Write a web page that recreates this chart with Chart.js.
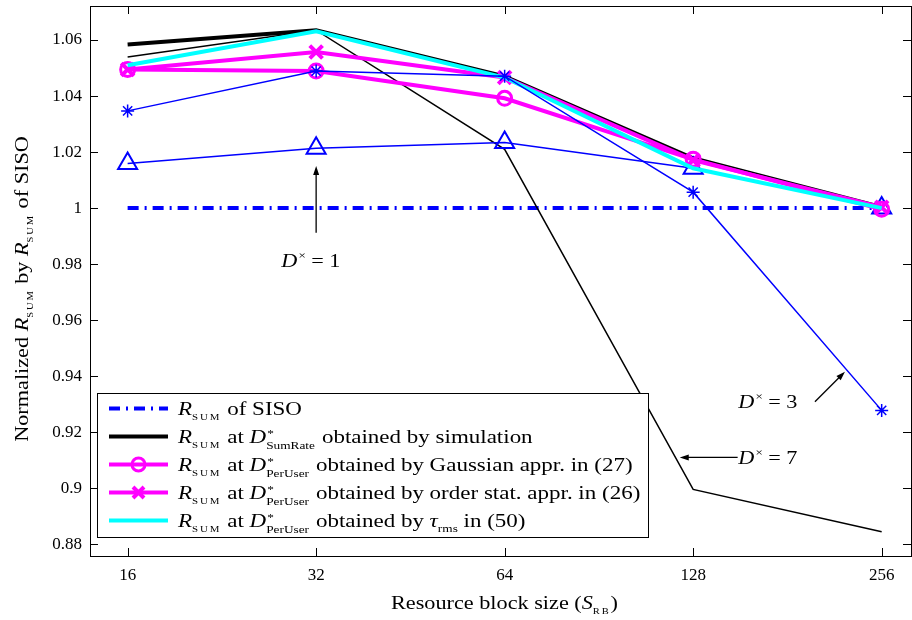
<!DOCTYPE html>
<html>
<head>
<meta charset="utf-8">
<script src="https://cdn.jsdelivr.net/npm/chart.js@4.4.1/dist/chart.umd.min.js"></script>
<style>
html, body { margin: 0; padding: 0; background: #fff; }
</style>
</head>
<body>
<canvas id="chart" width="912" height="620"></canvas>
<script>
// x axis: resource block size
const blockSizes = [16, 32, 64, 128, 256];
const xTickLabels = ['16', '32', '64', '128', '256'];
const yTicks = [0.88, 0.90, 0.92, 0.94, 0.96, 0.98, 1.00, 1.02, 1.04, 1.06];
const yTickLabels = ['0.88', '0.9', '0.92', '0.94', '0.96', '0.98', '1', '1.02', '1.04', '1.06'];

// normalized R_SUM
const sisoValues = [1.0, 1.0, 1.0, 1.0, 1.0];
const sumRateSim = [1.0584, 1.0635, 1.0470, 1.0178, 1.0003];
const gaussianAppr = [1.0495, 1.0489, 1.0392, 1.0174, 0.9996];
const orderStatAppr = [1.0495, 1.0557, 1.0466, 1.0171, 1.0003];
const tauRmsValues = [1.0510, 1.0631, 1.0466, 1.0142, 1.0000];
// fixed D^x curves
const fixedD1 = [1.0159, 1.0214, 1.0234, 1.0142, 1.0000];
const fixedD3 = [1.0347, 1.0489, 1.0471, 1.0057, 0.9278];
const fixedD7 = [1.0539, 1.0635, 1.0210, 0.8996, 0.8845];

const serif = '"Liberation Serif", "Times New Roman", serif';

function pts(vals) {
    return blockSizes.map((s, i) => ({x: Math.log2(s), y: vals[i]}));
}

// rich text pieces
const R_SUM = [{t: 'R', k: 'i'}, {t: 'SUM', k: 'sc'}];
const D_PU = [{t: 'D', k: 'i'}, {t: '*', k: 'ss', sub: 'PerUser'}];

const legendItems = [
    {color: '#0000ff', width: 4, dash: [11, 6, 2, 6], marker: null,
        text: [...R_SUM, {t: ' of SISO'}]},
    {color: '#000000', width: 4, dash: [], marker: null,
        text: [...R_SUM, {t: ' at '}, {t: 'D', k: 'i'}, {t: '*', k: 'ss', sub: 'SumRate'}, {t: ' obtained by simulation'}]},
    {color: '#ff00ff', width: 4, dash: [], marker: 'circle',
        text: [...R_SUM, {t: ' at '}, ...D_PU, {t: ' obtained by Gaussian appr. in (27)'}]},
    {color: '#ff00ff', width: 4, dash: [], marker: 'x',
        text: [...R_SUM, {t: ' at '}, ...D_PU, {t: ' obtained by order stat. appr. in (26)'}]},
    {color: '#00ffff', width: 4, dash: [], marker: null,
        text: [...R_SUM, {t: ' at '}, ...D_PU, {t: ' obtained by '}, {t: 'τ', k: 'i'}, {t: 'rms', k: 'sub'}, {t: ' in (50)'}]}
];

// arrows and labels, in data units (x = log2 of block size)
const notes = [
    {text: [{t: 'D', k: 'i'}, {t: '×', k: 'sup'}, {t: ' = 1'}], tx: 4.972, ty: 0.9789, align: 'center',
        from: [5, 0.9912], to: [5, 1.0150]},
    {text: [{t: 'D', k: 'i'}, {t: '×', k: 'sup'}, {t: ' = 3'}], tx: 7.239, ty: 0.9285, align: 'left',
        from: [7.646, 0.9309], to: [7.805, 0.9416]},
    {text: [{t: 'D', k: 'i'}, {t: '×', k: 'sup'}, {t: ' = 7'}], tx: 7.239, ty: 0.9087, align: 'left',
        from: [7.236, 0.9110], to: [6.929, 0.9110]}
];

const xTitle = [{t: 'Resource block size ('}, {t: 'S', k: 'i'}, {t: 'RB', k: 'sc'}, {t: ')'}];
const yTitle = [{t: 'Normalized '}, ...R_SUM, {t: ' by '}, ...R_SUM, {t: ' of SISO'}];

function pieceFont(k) {
    if (k === 'i') return 'italic 19px ' + serif;
    if (k === 'sc') return '9px ' + serif;
    if (k === 'sub' || k === 'sup' || k === 'ss') return '11px ' + serif;
    return '19px ' + serif;
}

function pieceWidth(ctx, p) {
    ctx.font = pieceFont(p.k);
    if (p.k === 'sc') return ctx.measureText(p.t).width + p.t.length * 1.6;
    if (p.k === 'ss') {
        const a = ctx.measureText(p.t).width;
        const b = ctx.measureText(p.sub).width;
        return Math.max(a, b) + 1;
    }
    if (p.k === 'sup') return ctx.measureText(p.t).width + 1;
    return ctx.measureText(p.t).width;
}

function richWidth(ctx, parts) {
    return parts.reduce((w, p) => w + pieceWidth(ctx, p), 0);
}

function drawRich(ctx, parts, x, y, align, stretch) {
    stretch = stretch || 1.17;
    const w = richWidth(ctx, parts) * stretch;
    let x0 = x;
    if (align === 'center') x0 = x - w / 2;
    ctx.save();
    ctx.translate(x0, y);
    ctx.scale(stretch, 1);
    ctx.fillStyle = '#000';
    ctx.textBaseline = 'alphabetic';
    ctx.textAlign = 'left';
    let cx = 0;
    parts.forEach(p => {
        ctx.font = pieceFont(p.k);
        if (p.k === 'sc') {
            let sx = cx;
            for (const ch of p.t) {
                ctx.fillText(ch, sx, 5);
                sx += ctx.measureText(ch).width + 1.6;
            }
        } else if (p.k === 'sub') {
            ctx.fillText(p.t, cx, 5);
        } else if (p.k === 'sup') {
            ctx.fillText(p.t, cx + 1, -8);
        } else if (p.k === 'ss') {
            ctx.fillText(p.t, cx + 1, -6);
            ctx.fillText(p.sub, cx, 6);
        } else {
            ctx.fillText(p.t, cx, 0);
        }
        cx += pieceWidth(ctx, p);
    });
    ctx.restore();
}

function arrow(ctx, x1, y1, x2, y2) {
    const ang = Math.atan2(y2 - y1, x2 - x1);
    ctx.save();
    ctx.strokeStyle = '#000';
    ctx.fillStyle = '#000';
    ctx.lineWidth = 1.3;
    ctx.beginPath();
    ctx.moveTo(x1, y1);
    ctx.lineTo(x2 - Math.cos(ang) * 6, y2 - Math.sin(ang) * 6);
    ctx.stroke();
    ctx.translate(x2, y2);
    ctx.rotate(ang);
    ctx.beginPath();
    ctx.moveTo(0, 0);
    ctx.lineTo(-9, -3);
    ctx.lineTo(-9, 3);
    ctx.closePath();
    ctx.fill();
    ctx.restore();
}

const decorPlugin = {
    id: 'decor',
    afterDraw(chart) {
        const ctx = chart.ctx;
        const a = chart.chartArea;
        const xs = chart.scales.x, ys = chart.scales.y;

        // frame + inward ticks
        ctx.save();
        ctx.strokeStyle = '#000';
        ctx.lineWidth = 1;
        ctx.strokeRect(Math.round(a.left) + 0.5, Math.round(a.top) + 0.5,
            Math.round(a.right - a.left), Math.round(a.bottom - a.top));
        ctx.beginPath();
        blockSizes.forEach(s => {
            const px = Math.round(xs.getPixelForValue(Math.log2(s))) + 0.5;
            ctx.moveTo(px, a.bottom); ctx.lineTo(px, a.bottom - 8);
            ctx.moveTo(px, a.top); ctx.lineTo(px, a.top + 8);
        });
        yTicks.forEach(v => {
            const py = Math.round(ys.getPixelForValue(v)) + 0.5;
            ctx.moveTo(a.left, py); ctx.lineTo(a.left + 8, py);
            ctx.moveTo(a.right, py); ctx.lineTo(a.right - 8, py);
        });
        ctx.stroke();
        ctx.restore();

        // axis titles
        drawRich(ctx, xTitle, (a.left + a.right) / 2 + 4, 609, 'center');
        ctx.save();
        ctx.translate(28, (a.top + a.bottom) / 2 + 8);
        ctx.rotate(-Math.PI / 2);
        drawRich(ctx, yTitle, 0, 0, 'center');
        ctx.restore();

        // annotations
        notes.forEach(n => {
            arrow(ctx, xs.getPixelForValue(n.from[0]), ys.getPixelForValue(n.from[1]),
                xs.getPixelForValue(n.to[0]), ys.getPixelForValue(n.to[1]));
            drawRich(ctx, n.text, xs.getPixelForValue(n.tx), ys.getPixelForValue(n.ty), n.align);
        });

        // legend box
        const bx = 97.5, by = 393.5, bw = 551, bh = 144;
        ctx.save();
        ctx.fillStyle = '#fff';
        ctx.fillRect(bx, by, bw, bh);
        ctx.strokeStyle = '#000';
        ctx.lineWidth = 1;
        ctx.strokeRect(bx, by, bw, bh);
        legendItems.forEach((it, i) => {
            const cy = 408.5 + 28 * i;
            ctx.strokeStyle = it.color;
            ctx.lineWidth = it.width;
            ctx.setLineDash(it.dash);
            ctx.beginPath();
            ctx.moveTo(109, cy);
            ctx.lineTo(168, cy);
            ctx.stroke();
            ctx.setLineDash([]);
            if (it.marker === 'circle') {
                ctx.lineWidth = 3;
                ctx.beginPath();
                ctx.arc(138.5, cy, 6.5, 0, Math.PI * 2);
                ctx.stroke();
            } else if (it.marker === 'x') {
                ctx.lineWidth = 4;
                ctx.beginPath();
                ctx.moveTo(133, cy - 5.5); ctx.lineTo(144, cy + 5.5);
                ctx.moveTo(144, cy - 5.5); ctx.lineTo(133, cy + 5.5);
                ctx.stroke();
            }
            drawRich(ctx, it.text, 178, cy + 6, 'left', 1.21);
        });
        ctx.restore();
    }
};

const tickFont = {family: serif, size: 17};

new Chart(document.getElementById('chart').getContext('2d'), {
    type: 'line',
    data: {
        datasets: [
            {data: pts(sisoValues), borderColor: '#0000ff', borderWidth: 4, borderDash: [11, 6, 2, 6],
                pointRadius: 0, order: 7},
            {data: pts(sumRateSim), borderColor: '#000000', borderWidth: 4, pointRadius: 0, order: 6},
            {data: pts(fixedD7), borderColor: '#000000', borderWidth: 1.5, pointRadius: 0, order: 5},
            {data: pts(fixedD1), borderColor: '#0000ff', borderWidth: 1.5, pointStyle: 'triangle',
                pointRadius: 11, pointBorderWidth: 2, pointBorderColor: '#0000ff',
                pointBackgroundColor: 'rgba(0,0,0,0)', order: 4},
            {data: pts(gaussianAppr), borderColor: '#ff00ff', borderWidth: 4, pointStyle: 'circle',
                pointRadius: 7, pointBorderWidth: 3, pointBorderColor: '#ff00ff',
                pointBackgroundColor: 'rgba(0,0,0,0)', order: 3},
            {data: pts(orderStatAppr), borderColor: '#ff00ff', borderWidth: 4, pointStyle: 'crossRot',
                pointRadius: 9, pointBorderWidth: 4, pointBorderColor: '#ff00ff', order: 2},
            {data: pts(tauRmsValues), borderColor: '#00ffff', borderWidth: 4, pointRadius: 0, order: 1},
            {data: pts(fixedD3), borderColor: '#0000ff', borderWidth: 1.5, pointStyle: 'star',
                pointRadius: 6.5, pointBorderWidth: 1.5, pointBorderColor: '#0000ff', order: 0}
        ]
    },
    options: {
        responsive: false,
        animation: false,
        events: [],
        layout: {autoPadding: false, padding: {top: 6, right: 1, left: 0, bottom: 0}},
        elements: {line: {tension: 0, fill: false}},
        plugins: {legend: {display: false}, tooltip: {enabled: false}},
        scales: {
            x: {
                type: 'linear',
                min: 3.8004,
                max: 8.1556,
                grid: {display: false, drawTicks: false, tickLength: 0},
                border: {display: false},
                afterBuildTicks: s => { s.ticks = blockSizes.map(v => ({value: Math.log2(v)})); },
                afterFit: s => { s.height = 64; s.paddingLeft = 0; s.paddingRight = 0; },
                ticks: {padding: 9, font: tickFont, color: '#000', maxRotation: 0, autoSkip: false,
                    callback: (v, i) => xTickLabels[i]}
            },
            y: {
                type: 'linear',
                min: 0.87582,
                max: 1.07214,
                grid: {display: false, drawTicks: false, tickLength: 0},
                border: {display: false},
                afterBuildTicks: s => { s.ticks = yTicks.map(v => ({value: v})); },
                afterFit: s => { s.width = 90; s.paddingTop = 0; s.paddingBottom = 0; },
                ticks: {padding: 8, font: tickFont, color: '#000', autoSkip: false,
                    callback: (v, i) => yTickLabels[i]}
            }
        }
    },
    plugins: [decorPlugin]
});
</script>
</body>
</html>
